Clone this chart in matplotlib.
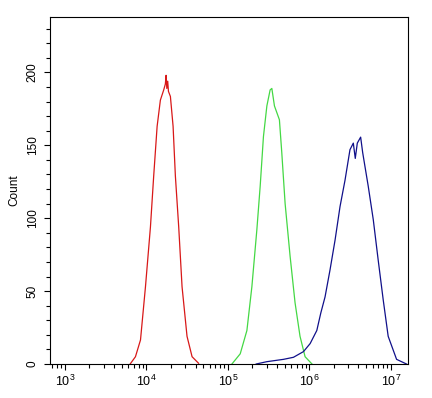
import matplotlib
matplotlib.use('Agg')
import matplotlib.pyplot as plt
from matplotlib.ticker import LogLocator, MultipleLocator, NullFormatter

plt.rcParams['font.family'] = ['Liberation Sans', 'DejaVu Sans']
plt.rcParams['mathtext.default'] = 'regular'

# log10 of fluorescence and counts
red_log = [3.80, 3.865, 3.927, 3.988, 4.049, 4.089, 4.131, 4.171, 4.212, 4.232, 4.241,
           4.250, 4.261, 4.270, 4.294, 4.327, 4.355, 4.396, 4.437, 4.498, 4.560, 4.640]
red_cnt = [0, 5, 16.5, 53, 94, 129, 163, 181, 188, 192, 198,
           189, 194, 187, 183.5, 163, 129, 94, 53, 19, 5, 0.5]

green_log = [5.049, 5.151, 5.233, 5.294, 5.355, 5.396, 5.436, 5.478, 5.518, 5.539,
             5.571, 5.632, 5.661, 5.702, 5.763, 5.824, 5.885, 5.947, 6.032]
green_cnt = [0, 7, 23, 53, 92, 122, 156, 177, 188, 189,
             177, 167.5, 145, 110, 74, 42, 19, 5, 0]

blue_log = [5.347, 5.478, 5.682, 5.804, 5.927, 6.009, 6.091, 6.140, 6.192, 6.253,
            6.315, 6.376, 6.437, 6.498, 6.539, 6.563, 6.588, 6.629, 6.654, 6.682,
            6.722, 6.784, 6.845, 6.906, 6.967, 7.070, 7.192]
blue_cnt = [0, 1.6, 3.2, 4.6, 8.5, 14, 23, 35, 46, 64.5,
            85, 108, 126, 147, 151.5, 141, 151.5, 155.6, 145, 135.5,
            122, 99, 71, 44, 19, 3.2, 0]

fig = plt.figure(figsize=(4.32, 3.98), dpi=100)
ax = fig.add_axes([0.1157, 0.0854, 0.8287, 0.8719])

ax.plot([10 ** v for v in red_log], red_cnt, color='#d81818', lw=0.9)
ax.plot([10 ** v for v in green_log], green_cnt, color='#44d844', lw=0.9)
ax.plot([10 ** v for v in blue_log], blue_cnt, color='#10108a', lw=0.9)

ax.set_xscale('log')
ax.set_xlim(10 ** 2.816, 10 ** 7.21)
ax.set_ylim(0, 238)

ax.xaxis.set_minor_locator(LogLocator(base=10, subs=range(2, 10), numticks=20))
ax.xaxis.set_minor_formatter(NullFormatter())
ax.set_xticks([1e3, 1e4, 1e5, 1e6, 1e7])
ax.set_xticklabels([r'$10^{3}$', r'$10^{4}$', r'$10^{5}$', r'$10^{6}$', r'$10^{7}$'],
                   fontsize=9)

ax.yaxis.set_major_locator(MultipleLocator(50))
ax.yaxis.set_minor_locator(MultipleLocator(10))
ax.tick_params(axis='y', labelsize=8.5)
for lbl in ax.get_yticklabels():
    lbl.set_rotation(90)
    lbl.set_va('center')

ax.tick_params(axis='both', which='major', length=4, width=0.8)
ax.tick_params(axis='both', which='minor', length=3, width=0.8)
ax.tick_params(axis='x', pad=3)
ax.tick_params(axis='y', pad=4)
ax.set_ylabel('Count', fontsize=8.5, labelpad=5)

for sp in ax.spines.values():
    sp.set_linewidth(0.8)

fig.savefig('out.png', dpi=100)
